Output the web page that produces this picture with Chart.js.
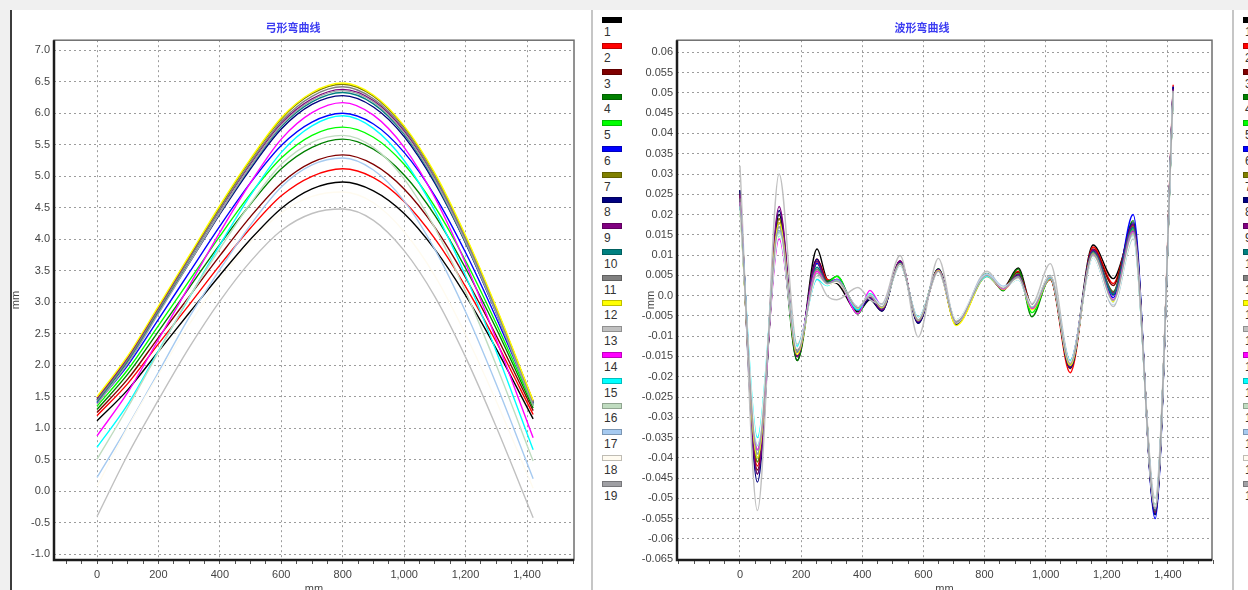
<!DOCTYPE html>
<html>
<head>
<meta charset="utf-8">
<script src="https://cdn.jsdelivr.net/npm/chart.js@4.4.1/dist/chart.umd.min.js"></script>
<style>
html, body { margin: 0; padding: 0; width: 1248px; height: 590px; overflow: hidden; background: #f0f0f0; }
.panel { position: absolute; top: 10px; height: 580px; background: #fff; overflow: hidden; }
#p1 { left: 10px; width: 579px; border-left: 2px solid #3c3c3c; }
#p2 { left: 593px; width: 639px; }
#p3 { left: 1234px; width: 14px; }
.sep { position: absolute; top: 10px; height: 580px; width: 2px; background: #c6c6c6; }
.legend { position: absolute; top: 0; left: 9px; width: 30px; font-family: 'Liberation Sans', Arial, sans-serif; }
.item { position: relative; height: 25.75px; }
.sw { position: absolute; left: 0; top: 7px; width: 18px; height: 4px; border: 1px solid rgba(0,0,0,0.25); }
.lb { position: absolute; left: 2px; top: 16px; font-size: 12px; line-height: 12px; color: #333; }
canvas { position: absolute; top: 0; }
</style>
</head>
<body>
<div class="panel" id="p1"><canvas id="bow" width="578" height="600" style="left:0"></canvas></div>
<div class="sep" style="left:591px"></div>
<div class="panel" id="p2"><div class="legend" id="legend1"></div><canvas id="wave" width="598" height="600" style="left:39px"></canvas></div>
<div class="sep" style="left:1232px"></div>
<div class="panel" id="p3"><div class="legend" id="legend2"></div></div>
<script>
// series names / colours (legend)
const seriesNames = ['1','2','3','4','5','6','7','8','9','10','11','12','13','14','15','16','17','18','19'];
const seriesColors = ['#000000','#ff0000','#800000','#008000','#00ff00','#0000ff','#808000','#000080','#800080','#008080',
                      '#808080','#ffff00','#c0c0c0','#ff00ff','#00ffff','#c0dcc0','#a6caf0','#fffbf0','#a0a0a4'];

// tick labels
const xTickLabels = [0, 200, 400, 600, 800, 1000, 1200, 1400];
const bowYTicks = [-1.0, -0.5, 0.0, 0.5, 1.0, 1.5, 2.0, 2.5, 3.0, 3.5, 4.0, 4.5, 5.0, 5.5, 6.0, 6.5, 7.0];
const waveYTicks = [-0.065, -0.06, -0.055, -0.05, -0.045, -0.04, -0.035, -0.03, -0.025, -0.02, -0.015, -0.01, -0.005,
                    0, 0.005, 0.01, 0.015, 0.02, 0.025, 0.03, 0.035, 0.04, 0.045, 0.05, 0.055, 0.06];

// 弓形弯曲线 (mm)
const bowX = [0, 100, 200, 300, 400, 500, 600, 700, 800, 900, 1000, 1100, 1200, 1300, 1420];
const bow01 = [1.12, 1.61, 2.22, 2.83, 3.43, 4.00, 4.49, 4.80, 4.91, 4.77, 4.41, 3.84, 3.11, 2.26, 1.15];
const bow02 = [1.20, 1.71, 2.34, 2.96, 3.59, 4.18, 4.69, 5.00, 5.12, 4.98, 4.60, 4.01, 3.25, 2.37, 1.22];
const bow03 = [1.25, 1.78, 2.44, 3.09, 3.74, 4.36, 4.89, 5.22, 5.34, 5.19, 4.80, 4.19, 3.39, 2.47, 1.28];
const bow04 = [1.30, 1.86, 2.54, 3.23, 3.92, 4.56, 5.12, 5.46, 5.59, 5.43, 5.02, 4.38, 3.54, 2.58, 1.32];
const bow05 = [1.35, 1.93, 2.63, 3.34, 4.05, 4.72, 5.29, 5.65, 5.78, 5.62, 5.19, 4.52, 3.66, 2.66, 1.36];
const bow06 = [1.40, 2.00, 2.73, 3.47, 4.21, 4.90, 5.49, 5.86, 6.00, 5.83, 5.38, 4.69, 3.79, 2.75, 1.40];
const bow07 = [1.47, 2.12, 2.92, 3.72, 4.51, 5.26, 5.91, 6.31, 6.46, 6.27, 5.78, 5.03, 4.04, 2.90, 1.42];
const bow08 = [1.45, 2.08, 2.85, 3.62, 4.40, 5.12, 5.75, 6.14, 6.28, 6.10, 5.63, 4.89, 3.94, 2.83, 1.40];
const bow09 = [1.48, 2.12, 2.90, 3.69, 4.47, 5.20, 5.84, 6.23, 6.38, 6.20, 5.72, 4.97, 4.00, 2.89, 1.43];
const bow10 = [1.42, 2.06, 2.84, 3.63, 4.42, 5.15, 5.79, 6.18, 6.33, 6.15, 5.67, 4.92, 3.95, 2.84, 1.38];
const bow11 = [1.44, 2.09, 2.88, 3.68, 4.48, 5.22, 5.87, 6.27, 6.42, 6.23, 5.75, 4.99, 4.01, 2.88, 1.40];
const bow12 = [1.50, 2.15, 2.94, 3.74, 4.54, 5.28, 5.93, 6.33, 6.48, 6.29, 5.80, 5.05, 4.06, 2.92, 1.44];
const bow13 = [-0.40, 0.58, 1.45, 2.28, 3.02, 3.65, 4.14, 4.41, 4.48, 4.30, 3.82, 3.09, 2.13, 1.02, -0.42];
const bow14 = [0.88, 1.57, 2.41, 3.26, 4.11, 4.90, 5.59, 6.01, 6.17, 5.97, 5.46, 4.66, 3.62, 2.41, 0.85];
const bow15 = [0.70, 1.38, 2.23, 3.07, 3.91, 4.70, 5.38, 5.80, 5.96, 5.76, 5.25, 4.45, 3.42, 2.22, 0.66];
const bow16 = [0.51, 1.33, 2.21, 3.08, 3.85, 4.57, 5.19, 5.54, 5.65, 5.46, 4.96, 4.18, 3.17, 2.00, 0.48];
const bow17 = [0.22, 1.03, 1.89, 2.76, 3.52, 4.23, 4.83, 5.18, 5.29, 5.10, 4.61, 3.84, 2.85, 1.70, 0.20];
const bow18 = [0.08, 1.01, 1.85, 2.65, 3.35, 3.96, 4.42, 4.68, 4.75, 4.58, 4.12, 3.42, 2.49, 1.43, 0.05];
const bow19 = [1.38, 2.03, 2.82, 3.62, 4.42, 5.16, 5.81, 6.21, 6.36, 6.18, 5.69, 4.94, 3.96, 2.83, 1.36];

// 波形弯曲线 (mm)
const waveX = [0, 57, 128, 187, 252, 285, 317, 386, 425, 464, 524, 583, 649, 707, 808, 861, 910, 955, 1015, 1080, 1155, 1221, 1286, 1358, 1417];
const wave01 = [0.026, -0.044, 0.020, -0.016, 0.0115, 0.004, 0.003, -0.004, -0.001, -0.0038, 0.0085, -0.0068, 0.0066, -0.0065, 0.005, 0.002, 0.0068, -0.0022, 0.004, -0.017, 0.0125, 0.0042, 0.016, -0.052, 0.050];
const wave02 = [0.025, -0.042, 0.018, -0.015, 0.009, 0.004, 0.0035, -0.003, 0.000, -0.003, 0.0085, -0.0065, 0.006, -0.007, 0.005, 0.0018, 0.006, -0.0025, 0.004, -0.019, 0.012, 0.003, 0.017, -0.053, 0.052];
const wave03 = [0.024, -0.043, 0.019, -0.015, 0.009, 0.0035, 0.0035, -0.0035, -0.0005, -0.003, 0.0082, -0.0064, 0.0064, -0.0066, 0.0052, 0.0015, 0.0058, -0.003, 0.0042, -0.018, 0.0115, 0.0025, 0.0175, -0.054, 0.051];
const wave04 = [0.023, -0.041, 0.016, -0.016, 0.008, 0.0035, 0.0048, -0.0045, 0.000, -0.0025, 0.0078, -0.006, 0.0066, -0.0072, 0.0055, 0.0012, 0.0066, -0.0052, 0.0045, -0.0178, 0.011, 0.001, 0.0185, -0.054, 0.050];
const wave05 = [0.022, -0.038, 0.015, -0.014, 0.0065, 0.003, 0.0048, -0.0045, 0.0005, -0.0025, 0.0076, -0.0058, 0.0062, -0.0065, 0.0053, 0.0014, 0.0055, -0.0042, 0.0044, -0.0172, 0.0105, 0.0005, 0.0165, -0.0525, 0.0505];
const wave06 = [0.024, -0.040, 0.018, -0.014, 0.008, 0.0032, 0.004, -0.0035, -0.0005, -0.0032, 0.0082, -0.0066, 0.0063, -0.0068, 0.005, 0.0016, 0.005, -0.003, 0.0046, -0.0172, 0.0112, -0.0005, 0.020, -0.055, 0.0515];
const wave07 = [0.025, -0.041, 0.019, -0.015, 0.0085, 0.003, 0.0038, -0.003, -0.0003, -0.003, 0.008, -0.0062, 0.0062, -0.0064, 0.005, 0.0017, 0.0052, -0.0028, 0.0045, -0.0175, 0.0112, 0.0008, 0.0172, -0.0535, 0.051];
const wave08 = [0.026, -0.046, 0.021, -0.015, 0.009, 0.0028, 0.0035, -0.0035, -0.0008, -0.0038, 0.0085, -0.0068, 0.0065, -0.007, 0.0048, 0.0015, 0.0052, -0.0032, 0.0043, -0.0178, 0.0112, 0.0002, 0.018, -0.054, 0.0515];
const wave09 = [0.025, -0.044, 0.022, -0.015, 0.0085, 0.003, 0.0036, -0.0032, -0.0004, -0.0035, 0.0086, -0.0064, 0.0064, -0.0068, 0.005, 0.0016, 0.0053, -0.003, 0.0045, -0.0176, 0.0113, 0.0006, 0.0176, -0.0535, 0.051];
const wave10 = [0.023, -0.039, 0.016, -0.014, 0.007, 0.0032, 0.004, -0.003, 0.000, -0.003, 0.008, -0.006, 0.006, -0.0064, 0.005, 0.0018, 0.0048, -0.003, 0.0045, -0.0172, 0.0108, 0.0004, 0.0168, -0.053, 0.0505];
const wave11 = [0.024, -0.040, 0.017, -0.0135, 0.0065, 0.003, 0.0038, -0.0028, 0.000, -0.0028, 0.0078, -0.0062, 0.0062, -0.0062, 0.0052, 0.0018, 0.0048, -0.0028, 0.005, -0.0168, 0.0105, -0.001, 0.0162, -0.0525, 0.0505];
const wave12 = [0.022, -0.040, 0.018, -0.0145, 0.006, 0.0025, 0.0035, -0.0032, 0.0002, -0.003, 0.0078, -0.006, 0.0062, -0.0074, 0.0048, 0.0015, 0.0045, -0.0035, 0.0042, -0.0172, 0.0102, -0.0015, 0.015, -0.052, 0.050];
const wave13 = [0.032, -0.053, 0.030, -0.012, 0.004, 0.000, -0.001, 0.002, -0.001, -0.002, 0.0099, -0.0102, 0.0092, -0.0068, 0.006, 0.002, 0.004, -0.002, 0.0079, -0.016, 0.0095, -0.0027, 0.014, -0.050, 0.049];
const wave14 = [0.023, -0.038, 0.014, -0.013, 0.006, 0.0028, 0.004, -0.0045, 0.0013, -0.0025, 0.0076, -0.0056, 0.006, -0.0062, 0.0052, 0.0016, 0.0045, -0.0032, 0.0044, -0.0162, 0.010, -0.001, 0.0158, -0.0525, 0.0505];
const wave15 = [0.022, -0.035, 0.015, -0.0125, 0.004, 0.0025, 0.0038, -0.0035, 0.0005, -0.0025, 0.0074, -0.0054, 0.0058, -0.006, 0.0048, 0.002, 0.004, -0.0028, 0.0044, -0.016, 0.0095, -0.002, 0.0145, -0.052, 0.050];
const wave16 = [0.021, -0.037, 0.0155, -0.013, 0.0048, 0.0028, 0.0036, -0.003, 0.0003, -0.0027, 0.0075, -0.0056, 0.0058, -0.006, 0.0052, 0.0022, 0.0042, -0.0025, 0.0048, -0.0163, 0.0098, -0.0018, 0.015, -0.0525, 0.0505];
const wave17 = [0.022, -0.037, 0.016, -0.013, 0.0045, 0.0028, 0.0034, -0.0028, 0.000, -0.0026, 0.0076, -0.0058, 0.0058, -0.006, 0.0054, 0.0023, 0.004, -0.0024, 0.0048, -0.0165, 0.0096, -0.0022, 0.0148, -0.052, 0.050];
const wave18 = [0.021, -0.036, 0.015, -0.013, 0.0045, 0.0026, 0.0033, -0.0028, 0.000, -0.0025, 0.0075, -0.0056, 0.0057, -0.006, 0.005, 0.002, 0.004, -0.0025, 0.0047, -0.0165, 0.0095, -0.002, 0.0145, -0.052, 0.050];
const wave19 = [0.023, -0.039, 0.017, -0.014, 0.0055, 0.003, 0.0036, -0.003, 0.000, -0.0028, 0.0078, -0.006, 0.006, -0.0064, 0.005, 0.0018, 0.0046, -0.003, 0.0046, -0.0168, 0.0102, -0.0012, 0.0155, -0.0525, 0.0505];

const bowSeries = [bow01, bow02, bow03, bow04, bow05, bow06, bow07, bow08, bow09, bow10,
                   bow11, bow12, bow13, bow14, bow15, bow16, bow17, bow18, bow19];
const waveSeries = [wave01, wave02, wave03, wave04, wave05, wave06, wave07, wave08, wave09, wave10,
                    wave11, wave12, wave13, wave14, wave15, wave16, wave17, wave18, wave19];

Chart.defaults.font.family = "'Liberation Sans', Arial, 'Noto Sans CJK SC', sans-serif";
Chart.defaults.font.size = 11;
Chart.defaults.color = '#444';

const GRID = '#9c9c9c';

// sunken frame round the plot area
const frame = {
    id: 'frame',
    afterDraw(chart) {
        const { ctx, chartArea: a } = chart;
        ctx.save();
        ctx.strokeStyle = '#6e6e6e';
        ctx.lineWidth = 1.5;
        ctx.strokeRect(a.left, a.top, a.right - a.left, a.bottom - a.top);
        ctx.strokeStyle = '#1c1c1c';
        ctx.lineWidth = 2.5;
        ctx.beginPath();
        ctx.moveTo(a.left, a.top);
        ctx.lineTo(a.left, a.bottom);
        ctx.lineTo(a.right, a.bottom);
        ctx.stroke();
        ctx.restore();
    }
};

function minorTicks(from, to) {
    const t = [];
    for (let v = from; v <= to; v += 50) t.push({ value: v });
    return t;
}

// later series are painted over earlier ones, as in the original
function makeDatasets(xs, list) {
    return list.map((ys, i) => ({
        label: seriesNames[i],
        data: ys.map((y, j) => ({ x: xs[j], y: y })),
        borderColor: seriesColors[i],
        backgroundColor: seriesColors[i],
        borderWidth: 1.4,
        pointRadius: 0,
        fill: false,
        order: list.length - i,
        cubicInterpolationMode: 'monotone'
    }));
}

function makeChart(id, cfg) {
    return new Chart(document.getElementById(id), {
        type: 'line',
        data: { datasets: makeDatasets(cfg.xs, cfg.series) },
        options: {
            responsive: false,
            animation: false,
            events: [],
            layout: { padding: { left: 0, right: cfg.padRight, top: 0, bottom: 10 } },
            plugins: {
                legend: { display: false },
                tooltip: { enabled: false },
                title: {
                    display: true,
                    text: cfg.title,
                    color: '#3b3bf2',
                    font: { size: 11, family: "'Noto Sans CJK SC', sans-serif" },
                    padding: { top: 11, bottom: 6 }
                }
            },
            scales: {
                x: {
                    type: 'linear',
                    min: cfg.xMin,
                    max: cfg.xMax,
                    afterBuildTicks: s => { s.ticks = minorTicks(cfg.minorFrom, 1550); },
                    afterFit: s => { s.height = 40; },
                    ticks: {
                        autoSkip: false,
                        maxRotation: 0,
                        padding: 4,
                        callback: v => xTickLabels.includes(v) ? v.toLocaleString('en-US') : ''
                    },
                    grid: {
                        color: c => (c.tick && xTickLabels.includes(c.tick.value)) ? GRID : 'rgba(0,0,0,0)',
                        lineWidth: 1,
                        tickLength: 4,
                        tickColor: '#555'
                    },
                    border: { display: false, dash: [2, 3] },
                    title: { display: true, text: 'mm', color: '#444', font: { size: 11 } }
                },
                y: {
                    type: 'linear',
                    min: cfg.yMin,
                    max: cfg.yMax,
                    afterBuildTicks: s => { s.ticks = cfg.yTicks.map(v => ({ value: v })); },
                    afterFit: s => { s.width = cfg.yWidth; },
                    ticks: { autoSkip: false, padding: 4, callback: cfg.yFormat },
                    grid: { color: GRID, lineWidth: 1, drawTicks: false },
                    border: { display: false, dash: [2, 3] },
                    title: { display: true, text: 'mm', color: '#444', font: { size: 11 }, padding: { top: cfg.yTitlePad, bottom: 0 } }
                }
            }
        },
        plugins: [frame]
    });
}

makeChart('bow', {
    title: '弓形弯曲线',
    xs: bowX, series: bowSeries,
    xMin: -140, xMax: 1553, minorFrom: -100,
    yMin: -1.09, yMax: 7.16, yTicks: bowYTicks,
    yFormat: v => v.toFixed(1),
    yWidth: 42, yTitlePad: -3, padRight: 16
});

makeChart('wave', {
    title: '波形弯曲线',
    xs: waveX, series: waveSeries,
    xMin: -206, xMax: 1544, minorFrom: -200,
    yMin: -0.0652, yMax: 0.063, yTicks: waveYTicks,
    yFormat: v => v === 0 ? '0.0' : String(v),
    yWidth: 45, yTitlePad: 12, padRight: 18
});

function buildLegend(el) {
    seriesNames.forEach((n, i) => {
        const it = document.createElement('div');
        it.className = 'item';
        it.innerHTML = '<span class="sw" style="background:' + seriesColors[i] + '"></span><span class="lb">' + n + '</span>';
        el.appendChild(it);
    });
}
buildLegend(document.getElementById('legend1'));
buildLegend(document.getElementById('legend2'));
</script>
</body>
</html>
